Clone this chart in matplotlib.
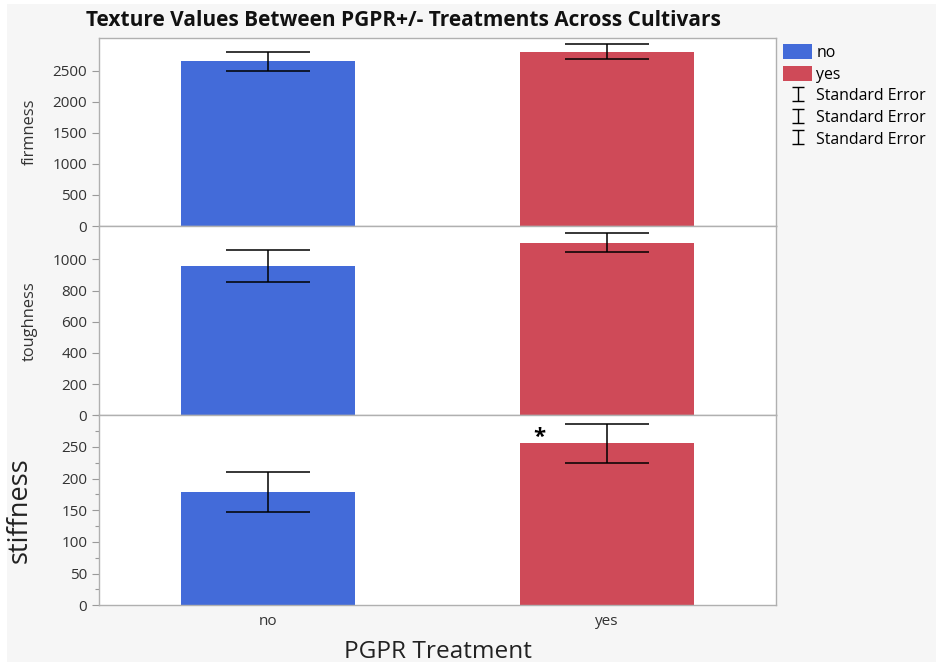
import matplotlib
matplotlib.use("Agg")
import matplotlib.pyplot as plt
from matplotlib.patches import Rectangle, Patch
from matplotlib.lines import Line2D
from matplotlib.path import Path
from matplotlib.ticker import MultipleLocator

plt.rcParams['font.family'] = ['Open Sans', 'DejaVu Sans']

# Data
categories = ["no", "yes"]
firmness_mean = [2652, 2807]
firmness_se = [153, 118]
toughness_mean = [959, 1109]
toughness_se = [101, 61]
stiffness_mean = [179, 256]
stiffness_se = [32, 31]
panel_names = ["firmness", "toughness", "stiffness"]
panel_ylims = [3025, 1215, 300]
panel_ticks = [[0, 500, 1000, 1500, 2000, 2500],
               [0, 200, 400, 600, 800, 1000],
               [0, 50, 100, 150, 200, 250]]
bar_colors = ["#436bd9", "#cf4a58"]

W, H = 943, 665
fig = plt.figure(figsize=(W / 100, H / 100), dpi=100)
fig.patch.set_facecolor("white")
fig.patches.append(Rectangle((7 / W, 1 - 662 / H), (936 - 7) / W, (662 - 4) / H,
                             transform=fig.transFigure, facecolor="#f6f6f6",
                             edgecolor="none", zorder=-10))

left = 99 / W
width = (776 - 99) / W
panel_px = [(38, 226), (226, 415.3), (415.3, 605.3)]
means = [firmness_mean, toughness_mean, stiffness_mean]
ses = [firmness_se, toughness_se, stiffness_se]
axes = []
x = list(range(len(categories)))
for i, (top, bot) in enumerate(panel_px):
    ax = fig.add_axes([left, 1 - bot / H, width, (bot - top) / H])
    axes.append(ax)
    ax.set_facecolor("white")
    ax.bar(x, means[i], width=0.515, color=bar_colors, zorder=2)
    ax.errorbar(x, means[i], yerr=ses[i], fmt="none", ecolor="black",
                elinewidth=1.1, capsize=30, capthick=1.1, zorder=3)
    ax.set_xlim(-0.5, 1.5)
    ax.set_ylim(0, panel_ylims[i])
    ax.set_yticks(panel_ticks[i])
    for s in ax.spines.values():
        s.set_color("#b0b0b0")
        s.set_linewidth(1)
    ax.tick_params(axis="y", colors="#9a9a9a", labelcolor="#333333",
                   labelsize=11, length=5, width=0.8)
    if i < 2:
        ax.tick_params(axis="x", bottom=False, labelbottom=False)
    else:
        ax.yaxis.set_minor_locator(MultipleLocator(25))
        ax.tick_params(axis="y", which="minor", colors="#9a9a9a", length=3, width=0.8)
        ax.set_xticks(x)
        ax.set_xticklabels(categories)
        ax.tick_params(axis="x", length=0, labelsize=11, labelcolor="#333333", pad=6)

axes[0].set_ylabel("firmness", fontsize=11.8, color="#333333")
axes[1].set_ylabel("toughness", fontsize=11.8, color="#333333")
axes[2].set_ylabel("stiffness", fontsize=19.5, color="#222222")
axes[0].yaxis.set_label_coords(-0.091, 0.5)
axes[1].yaxis.set_label_coords(-0.091, 0.5)
axes[2].yaxis.set_label_coords(-0.096, 0.5)
axes[2].set_xlabel("PGPR Treatment", fontsize=17.6, color="#222222", labelpad=8)

axes[2].text(0.8, 265, "*", fontsize=16, fontweight="bold", ha="center", va="center", zorder=4)

fig.text(403 / W, 1 - 20 / H, "Texture Values Between PGPR+/- Treatments Across Cultivars",
         fontsize=15, fontweight="bold", ha="center", va="center", color="#111111")

ibeam = Path([(-0.9, 1), (0.9, 1), (0, 1), (0, -1), (-0.9, -1), (0.9, -1)],
             [Path.MOVETO, Path.LINETO, Path.MOVETO, Path.LINETO, Path.MOVETO, Path.LINETO])
se_handle = lambda: Line2D([], [], color="black", marker=ibeam, markersize=9.5,
                           markeredgewidth=1.0, linestyle="none", label="Standard Error")
handles = [Patch(facecolor=bar_colors[0], edgecolor="none", label="no"),
           Patch(facecolor=bar_colors[1], edgecolor="none", label="yes"),
           se_handle(), se_handle(), se_handle()]
fig.legend(handles=handles, loc="upper left", bbox_to_anchor=(783 / W, 1 - 44 / H),
           frameon=False, fontsize=11.4, handlelength=1.85, handleheight=1.1,
           handletextpad=0.25, labelspacing=0.3, borderaxespad=0, borderpad=0)

fig.savefig("out.png", dpi=100, facecolor=fig.get_facecolor())
